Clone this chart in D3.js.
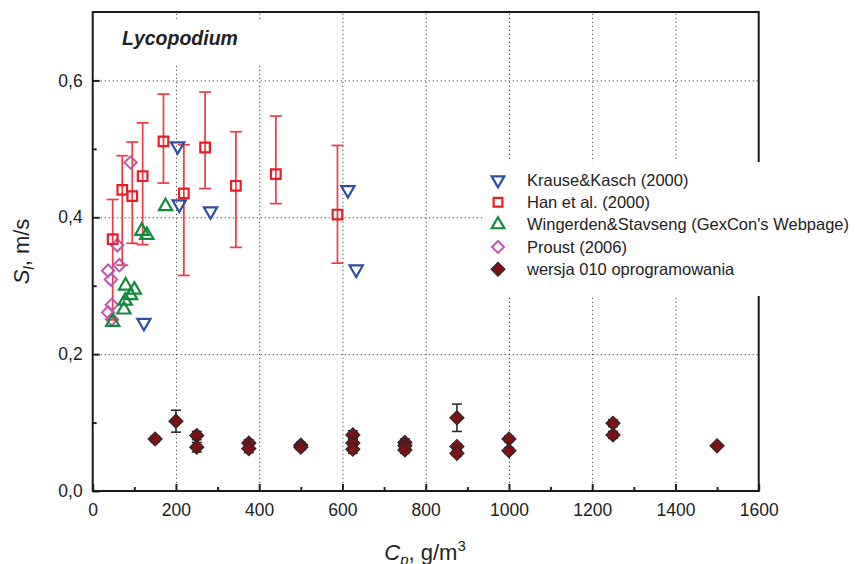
<!DOCTYPE html>
<html>
<head>
<meta charset="utf-8">
<script src="https://cdn.jsdelivr.net/npm/d3@7"></script>
<style>
  body { margin: 0; background: #fff; }
  text { font-family: "Liberation Sans", Arial, sans-serif; fill: #222; }
</style>
</head>
<body>
<script>
// Krause&Kasch (2000)
const krauseX = [204, 208, 283, 123, 613, 633];
const krauseY = [0.504, 0.419, 0.409, 0.246, 0.440, 0.324];

// Han et al. (2000) with error bars
const hanX = [48, 71, 95, 120, 170, 219, 270, 344, 440, 588];
const hanY = [0.368, 0.440, 0.431, 0.460, 0.511, 0.435, 0.502, 0.446, 0.463, 0.404];
const hanLo = [0.250, 0.330, 0.362, 0.360, 0.450, 0.315, 0.442, 0.356, 0.420, 0.333];
const hanHi = [0.426, 0.490, 0.510, 0.538, 0.580, 0.506, 0.583, 0.525, 0.548, 0.505];

// Wingerden&Stavseng
const wingX = [175, 118, 130, 79, 100, 91, 78, 75, 48];
const wingY = [0.416, 0.380, 0.374, 0.300, 0.294, 0.286, 0.278, 0.265, 0.247];

// Proust (2006)
const proustX = [91, 59, 64, 37, 44, 46, 37, 46];
const proustY = [0.480, 0.359, 0.330, 0.322, 0.309, 0.272, 0.261, 0.251];

// wersja 010 oprogramowania
const simX = [150, 200, 250, 250, 375, 375, 500, 500, 625, 625, 625, 750, 750, 750, 875, 875, 875, 1000, 1000, 1250, 1250, 1500];
const simY = [0.076, 0.102, 0.081, 0.064, 0.070, 0.062, 0.067, 0.064, 0.082, 0.070, 0.061, 0.071, 0.066, 0.060, 0.107, 0.065, 0.055, 0.076, 0.059, 0.099, 0.082, 0.066];
const simErr = [0.004, 0.016, 0.006, 0.007, 0.005, 0.006, 0.004, 0.004, 0.006, 0.006, 0.006, 0.005, 0.004, 0.005, 0.020, 0.004, 0.004, 0.004, 0.004, 0.005, 0.005, 0];

const xTicks = [0, 200, 400, 600, 800, 1000, 1200, 1400, 1600];
const yTicks = [0, 0.2, 0.4, 0.6];
const legendLabels = ['Krause&Kasch (2000)', 'Han et al. (2000)', "Wingerden&Stavseng (GexCon's Webpage)", 'Proust (2006)', 'wersja 010 oprogramowania'];

const width = 863;
const height = 564;
const plotL = 92.7, plotR = 758.7, plotT = 12, plotB = 491;

const xScale = d3.scaleLinear().domain([0, 1600]).range([plotL, plotR]);
const yScale = d3.scaleLinear().domain([0, 0.7]).range([plotB, plotT]);

const svg = d3.select('body')
  .append('svg')
  .attr('width', width)
  .attr('height', height);

// dotted grid
svg.append('g')
  .attr('transform', `translate(0, ${plotB})`)
  .call(d3.axisBottom(xScale).tickValues(xTicks.slice(1, -1)).tickSize(-(plotB - plotT)).tickFormat(''))
  .call(g => g.select('.domain').remove())
  .selectAll('line')
  .attr('stroke', '#444')
  .attr('stroke-dasharray', '1.2,2.8');

svg.append('g')
  .attr('transform', `translate(${plotL}, 0)`)
  .call(d3.axisLeft(yScale).tickValues(yTicks.slice(1)).tickSize(-(plotR - plotL)).tickFormat(''))
  .call(g => g.select('.domain').remove())
  .selectAll('line')
  .attr('stroke', '#444')
  .attr('stroke-dasharray', '1.2,2.8');

// minor ticks
svg.append('g')
  .attr('transform', `translate(0, ${plotB})`)
  .call(d3.axisBottom(xScale).tickValues(d3.range(100, 1600, 200)).tickSize(-4).tickFormat(''))
  .call(g => g.select('.domain').remove())
  .selectAll('line').attr('stroke', '#222').attr('stroke-width', 2);

svg.append('g')
  .attr('transform', `translate(${plotL}, 0)`)
  .call(d3.axisLeft(yScale).tickValues([0.1, 0.3, 0.5]).tickSize(-4).tickFormat(''))
  .call(g => g.select('.domain').remove())
  .selectAll('line').attr('stroke', '#222').attr('stroke-width', 2);

// main axes
const xAxis = svg.append('g')
  .attr('transform', `translate(0, ${plotB})`)
  .call(d3.axisBottom(xScale).tickValues(xTicks).tickSize(-7).tickPadding(13).tickFormat(d3.format('d')));
xAxis.select('.domain').remove();
xAxis.selectAll('line').attr('stroke', '#222').attr('stroke-width', 2);
xAxis.selectAll('text').style('font-size', '17.5px').attr('fill', '#222');

const yAxis = svg.append('g')
  .attr('transform', `translate(${plotL}, 0)`)
  .call(d3.axisLeft(yScale).tickValues(yTicks).tickSize(-7).tickPadding(10).tickFormat(d => d3.format('.1f')(d).replace('.', ',')));
yAxis.select('.domain').remove();
yAxis.selectAll('line').attr('stroke', '#222').attr('stroke-width', 2);
yAxis.selectAll('text').style('font-size', '17.5px').attr('fill', '#222');

// frame
svg.append('rect')
  .attr('x', plotL).attr('y', plotT)
  .attr('width', plotR - plotL).attr('height', plotB - plotT)
  .attr('fill', 'none')
  .attr('stroke', '#1a1a1a')
  .attr('stroke-width', 2);

// title box
svg.append('rect')
  .attr('x', 106).attr('y', 19).attr('width', 158).attr('height', 44)
  .attr('fill', '#fff');
svg.append('text')
  .attr('x', 122).attr('y', 44.5)
  .style('font-size', '19.5px')
  .style('font-weight', 'bold')
  .style('font-style', 'italic')
  .text('Lycopodium');

// legend box
svg.append('rect')
  .attr('x', 483).attr('y', 162).attr('width', 380).attr('height', 134)
  .attr('fill', '#fff');

const colors = {
  krause: '#2c4fa6',
  han: '#ec1c24',
  hanErr: '#ee3a46',
  wing: '#128a3c',
  proust: '#c555b5',
  sim: '#7c1116'
};

const sq = d3.symbol().type(d3.symbolSquare);
const tri = d3.symbol().type(d3.symbolTriangle);

// Han error bars
const hanData = hanX.map((x, i) => ({x, y: hanY[i], lo: hanLo[i], hi: hanHi[i]}));
const hanErr = svg.append('g').attr('stroke', colors.hanErr).attr('stroke-width', 1.7);
hanData.forEach(d => {
  const cx = xScale(d.x);
  hanErr.append('line').attr('x1', cx).attr('x2', cx).attr('y1', yScale(d.lo)).attr('y2', yScale(d.hi));
  hanErr.append('line').attr('x1', cx - 6).attr('x2', cx + 6).attr('y1', yScale(d.lo)).attr('y2', yScale(d.lo));
  hanErr.append('line').attr('x1', cx - 6).attr('x2', cx + 6).attr('y1', yScale(d.hi)).attr('y2', yScale(d.hi));
});

// Proust
svg.append('g').selectAll('path')
  .data(proustX.map((x, i) => [x, proustY[i]]))
  .enter().append('path')
  .attr('d', sq.size(76)())
  .attr('transform', d => `translate(${xScale(d[0])}, ${yScale(d[1])}) rotate(45)`)
  .attr('fill', 'none').attr('stroke', colors.proust).attr('stroke-width', 2);

// Wingerden
svg.append('g').selectAll('path')
  .data(wingX.map((x, i) => [x, wingY[i]]))
  .enter().append('path')
  .attr('d', tri.size(76)())
  .attr('transform', d => `translate(${xScale(d[0])}, ${yScale(d[1])})`)
  .attr('fill', 'none').attr('stroke', colors.wing).attr('stroke-width', 2.2);

// Han
svg.append('g').selectAll('path')
  .data(hanData)
  .enter().append('path')
  .attr('d', sq.size(92)())
  .attr('transform', d => `translate(${xScale(d.x)}, ${yScale(d.y)})`)
  .attr('fill', 'none').attr('stroke', colors.han).attr('stroke-width', 2.2);

// Krause
svg.append('g').selectAll('path')
  .data(krauseX.map((x, i) => [x, krauseY[i]]))
  .enter().append('path')
  .attr('d', tri.size(76)())
  .attr('transform', d => `translate(${xScale(d[0])}, ${yScale(d[1])}) rotate(180)`)
  .attr('fill', 'none').attr('stroke', colors.krause).attr('stroke-width', 2.2);

// simulation with error bars
const simData = simX.map((x, i) => ({x, y: simY[i], e: simErr[i]}));
const simErrG = svg.append('g').attr('stroke', '#222').attr('stroke-width', 1.5);
simData.filter(d => d.e > 0).forEach(d => {
  const cx = xScale(d.x);
  const y0 = yScale(d.y - d.e), y1 = yScale(d.y + d.e);
  simErrG.append('line').attr('x1', cx).attr('x2', cx).attr('y1', y0).attr('y2', y1);
  simErrG.append('line').attr('x1', cx - 5).attr('x2', cx + 5).attr('y1', y0).attr('y2', y0);
  simErrG.append('line').attr('x1', cx - 5).attr('x2', cx + 5).attr('y1', y1).attr('y2', y1);
});
svg.append('g').selectAll('path')
  .data(simData)
  .enter().append('path')
  .attr('d', sq.size(98)())
  .attr('transform', d => `translate(${xScale(d.x)}, ${yScale(d.y)}) rotate(45)`)
  .attr('fill', colors.sim).attr('stroke', '#2a2a2a').attr('stroke-width', 1.2);

// legend
const legendStyles = [
  {d: tri.size(70)(), rot: 180, fill: 'none', stroke: colors.krause, sw: 2.2},
  {d: sq.size(76)(), rot: 0, fill: 'none', stroke: colors.han, sw: 2.2},
  {d: tri.size(70)(), rot: 0, fill: 'none', stroke: colors.wing, sw: 2.2},
  {d: sq.size(70)(), rot: 45, fill: 'none', stroke: colors.proust, sw: 2},
  {d: sq.size(96)(), rot: 45, fill: colors.sim, stroke: '#2a2a2a', sw: 1.2}
];
const legend = svg.append('g');
legendLabels.forEach((label, i) => {
  const ly = 180 + i * 22.3;
  const s = legendStyles[i];
  legend.append('path')
    .attr('d', s.d)
    .attr('transform', `translate(498, ${ly}) rotate(${s.rot})`)
    .attr('fill', s.fill).attr('stroke', s.stroke).attr('stroke-width', s.sw);
  legend.append('text')
    .attr('x', 527).attr('y', ly).attr('dy', '0.35em')
    .style('font-size', '16.5px')
    .text(label);
});

// axis titles
const xt = svg.append('text')
  .attr('x', 425).attr('y', 560)
  .attr('text-anchor', 'middle')
  .style('font-size', '22px');
xt.append('tspan').style('font-style', 'italic').text('C');
xt.append('tspan').attr('dy', 5).style('font-size', '15px').style('font-style', 'italic').text('p');
xt.append('tspan').attr('dy', -5).text(', g/m');
xt.append('tspan').attr('dy', -9).style('font-size', '15px').text('3');

const yt = svg.append('text')
  .attr('transform', 'translate(29, 251.5) rotate(-90)')
  .attr('text-anchor', 'middle')
  .style('font-size', '22px');
yt.append('tspan').style('font-style', 'italic').text('S');
yt.append('tspan').attr('dy', 5).style('font-size', '15px').style('font-style', 'italic').text('l');
yt.append('tspan').attr('dy', -5).text(', m/s');
</script>
</body>
</html>
